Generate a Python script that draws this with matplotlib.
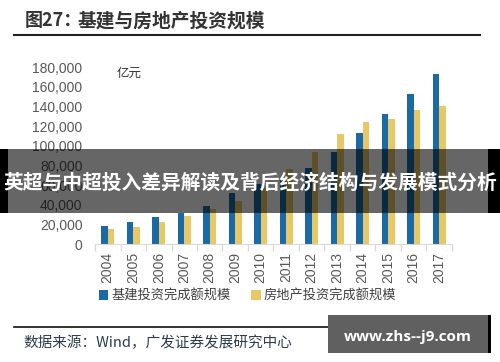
import numpy as np
import matplotlib
matplotlib.use("Agg")
import matplotlib.pyplot as plt
from matplotlib.patches import Rectangle, Patch
from matplotlib.lines import Line2D

plt.rcParams['font.family'] = ['Noto Sans CJK SC', 'DejaVu Sans']

years = ['2004', '2005', '2006', '2007', '2008', '2009', '2010',
         '2011', '2012', '2013', '2014', '2015', '2016', '2017']
# 亿元
infra = [18300, 22400, 27100, 31800, 38700, 52300, 61000,
         67000, 77300, 94000, 112600, 132000, 152600, 173600]
realty = [15000, 17600, 22000, 28800, 35800, 43700, 57000,
          76300, 93300, 111900, 124400, 127500, 136000, 140700]
yticks = [0, 20000, 40000, 60000, 80000, 100000, 120000, 140000, 160000, 180000]

W, H = 500, 362
BLUE = '#1B6AA5'
YELLOW = '#E8C766'


def fx(px):
    return px / W


def fy(py):
    return 1 - py / H


fig = plt.figure(figsize=(5, 3.62), dpi=100)
ax = fig.add_axes([fx(95), fy(244), fx(452) - fx(95), fy(67.3) - fy(244)])

x = np.arange(len(years))
bw = 0.26
ax.bar(x - bw / 2, infra, width=bw, color=BLUE, label='基建投资完成额规模')
ax.bar(x + bw / 2, realty, width=bw, color=YELLOW, label='房地产投资完成额规模')

ax.set_xlim(-0.5, len(years) - 0.5)
ax.set_ylim(0, 180000)
ax.set_yticks(yticks)
ax.set_yticklabels([f'{v:,}' for v in yticks], family='Liberation Sans',
                   fontsize=10, color='#595959')
ax.set_xticks(x)
ax.set_xticklabels(years, rotation=90, family='Liberation Sans',
                   fontsize=10, color='#595959')
ax.set_xticks(np.arange(-0.5, len(years)), minor=True)
ax.tick_params(axis='x', which='major', length=0, pad=6)
ax.tick_params(axis='x', which='minor', length=5, color='#d9d9d9', width=1)
ax.tick_params(axis='y', length=0, pad=9)
for s in ['top', 'right', 'left']:
    ax.spines[s].set_visible(False)
ax.spines['bottom'].set_color('#d9d9d9')

ax.text(fx(117), fy(73), '亿元', transform=fig.transFigure, fontsize=9,
        color='#333333', va='center')

leg = fig.legend(loc='center left', bbox_to_anchor=(fx(92), fy(296)), ncol=2,
                 frameon=False, fontsize=9.5, handlelength=0.7, handleheight=0.7,
                 handletextpad=0.25, columnspacing=1.6, borderpad=0)
for t in leg.get_texts():
    t.set_color('#404040')

# title + rules
fig.text(fx(25), fy(21), '图27：', fontsize=13, fontweight='bold',
         color='#333333', va='center')
fig.text(fx(78), fy(21), '基建与房地产投资规模', fontsize=13.5, fontweight='bold',
         color='#333333', va='center')
fig.add_artist(Line2D([fx(14), fx(480)], [fy(34.5), fy(34.5)], color='#222222', lw=1.5))
fig.add_artist(Line2D([fx(14), fx(480)], [fy(327.3), fy(327.3)], color='#111111', lw=1.2))
fig.text(fx(23), fy(343), '数据来源：Wind，广发证券发展研究中心', fontsize=10.5,
         color='#2e3b4e', va='center')

# banner overlay
fig.add_artist(Rectangle((0, fy(212.7)), fx(8), fy(149.3) - fy(212.7),
                         color='black', zorder=5, lw=0))
fig.add_artist(Rectangle((fx(488), fy(212.7)), fx(12), fy(149.3) - fy(212.7),
                         color='black', zorder=5, lw=0))
fig.add_artist(Rectangle((fx(8), fy(212.7)), fx(480), fy(149.3) - fy(212.7),
                         color='black', alpha=0.6, zorder=5, lw=0))
fig.text(0.5, fy(183), '英超与中超投入差异解读及背后经济结构与发展模式分析',
         fontsize=14.2, fontweight='bold', color='white', ha='center',
         va='center', zorder=6)

# watermark
fig.add_artist(Rectangle((fx(328), fy(352.7)), fx(160), fy(315) - fy(352.7),
                         color='#606060', zorder=5, lw=0))
fig.add_artist(Rectangle((fx(488), fy(352.7)), fx(2.5), fy(315) - fy(352.7),
                         color='black', zorder=5, lw=0))
fig.text(fx(408), fy(336.5), 'www.zhs--j9.com', family='Open Sans', fontsize=11,
         fontweight='bold', color='white', ha='center', va='center', zorder=6)

fig.savefig('out.png', dpi=100)
